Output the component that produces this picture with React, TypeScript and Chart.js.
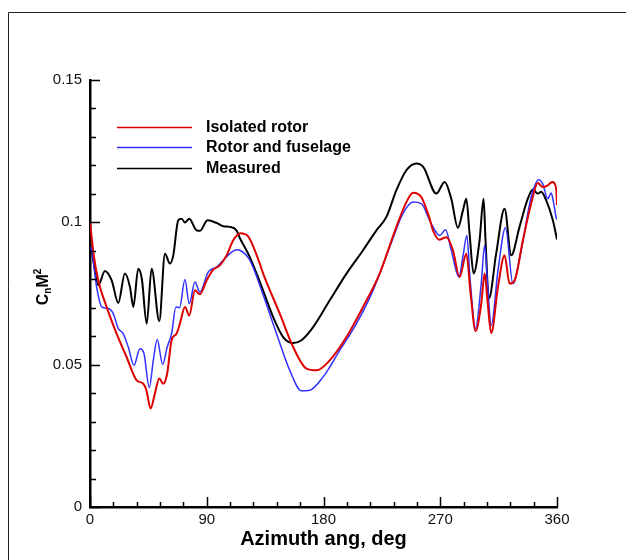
import React, { useEffect, useRef } from "react";
import { Chart, registerables } from "chart.js";

Chart.register(...registerables);

// Isolated rotor
const isoAz = [0, 3, 6.4, 12.8, 20.5, 28.2, 36, 41.1, 43.5, 46.7, 50, 53.4, 56.5, 59.5, 62.9, 66.7, 69.3, 73.2, 76.5, 80.9, 84.7, 89.9, 95, 100.1, 105.3, 110.4, 116, 121.9, 130.9, 133.5, 146.3, 156.6, 166.9, 174.6, 184.8, 197.7, 210.5, 223.3, 236.2, 243.9, 249, 255.4, 261.8, 264.4, 269.5, 274.7, 279.8, 284.9, 290.1, 293.4, 297.2, 301.6, 304.2, 306.5, 309.3, 314.5, 319.6, 323.4, 327.3, 333.7, 340.1, 345.2, 349.1, 352.9, 356.3, 359.4, 360];
const isoCn = [0.1, 0.088, 0.0796, 0.0703, 0.0609, 0.0527, 0.0445, 0.0433, 0.041, 0.0346, 0.0398, 0.0451, 0.0433, 0.0469, 0.0586, 0.0609, 0.0644, 0.0703, 0.0673, 0.0761, 0.0747, 0.0796, 0.0834, 0.0849, 0.0884, 0.0937, 0.0962, 0.0951, 0.0855, 0.082, 0.0679, 0.0562, 0.0486, 0.048, 0.0515, 0.0597, 0.0703, 0.082, 0.0984, 0.1071, 0.1104, 0.1089, 0.1013, 0.0972, 0.0939, 0.0948, 0.0902, 0.0808, 0.089, 0.075, 0.0618, 0.0714, 0.082, 0.072, 0.0611, 0.0773, 0.0884, 0.0785, 0.0796, 0.0937, 0.1066, 0.1138, 0.1124, 0.113, 0.1142, 0.1118, 0.106];

// Rotor and fuselage
const fusAz = [0, 1.3, 5.1, 9, 14.1, 17.9, 21.8, 25.6, 29.5, 33.9, 38.5, 41.6, 45.7, 48.8, 51.8, 56, 59.5, 62.9, 66.2, 69, 73.2, 76.5, 80.9, 84.7, 91.1, 97.5, 102.7, 107.8, 112.9, 115.5, 123.2, 133.5, 143.8, 154, 163, 169.4, 179.7, 192.5, 205.4, 218.2, 231, 241.3, 249, 255.4, 261.8, 264.4, 269.5, 274.1, 278.5, 284.4, 287.5, 290.5, 293, 297.2, 301.6, 304.2, 306.5, 309.3, 314.5, 320.3, 326, 332.4, 340.1, 346, 349, 352.9, 355.5, 357.3, 359.4, 360];
const fusCn = [0.0913, 0.0902, 0.0773, 0.0703, 0.0697, 0.0679, 0.0627, 0.0609, 0.0562, 0.0498, 0.0556, 0.0539, 0.0419, 0.0515, 0.0588, 0.0501, 0.0562, 0.0609, 0.0703, 0.07, 0.0799, 0.0714, 0.079, 0.0755, 0.0825, 0.0843, 0.0867, 0.089, 0.0904, 0.0902, 0.0867, 0.0745, 0.0609, 0.048, 0.0408, 0.041, 0.0457, 0.055, 0.0644, 0.0761, 0.0913, 0.1031, 0.1071, 0.1066, 0.1007, 0.0984, 0.0954, 0.0974, 0.0902, 0.0808, 0.088, 0.0954, 0.08, 0.0627, 0.0785, 0.0919, 0.078, 0.0638, 0.0831, 0.0981, 0.0785, 0.0902, 0.1089, 0.115, 0.1135, 0.1083, 0.1103, 0.1071, 0.1016, 0.101];

// Measured
const measAz = [0, 2, 6.4, 11.5, 16.7, 21.8, 26.9, 30.8, 33.4, 37.2, 40, 43.7, 47.5, 53.4, 57.8, 61.6, 64.2, 68, 70.6, 73.2, 76.5, 82.1, 84.7, 90.6, 97.5, 102.7, 107.8, 112.9, 115.5, 123.2, 131, 141.2, 148.9, 156.6, 163, 172, 184.8, 197.7, 210.5, 220.8, 228.5, 236.2, 243.9, 251.6, 257, 267, 273.4, 278.5, 283.6, 287.5, 290.1, 292.6, 295.7, 300.3, 303.4, 304.9, 307.5, 313.1, 319.6, 324.7, 331.1, 337.5, 341.4, 345.2, 347.8, 351.7, 356.8, 360];
const measCn = [0.0926, 0.088, 0.0779, 0.0829, 0.0796, 0.0717, 0.082, 0.0773, 0.0703, 0.0837, 0.08, 0.0644, 0.0837, 0.0653, 0.089, 0.0855, 0.0884, 0.1007, 0.1013, 0.0999, 0.1013, 0.0972, 0.097, 0.1007, 0.0998, 0.0986, 0.0984, 0.0972, 0.0945, 0.0878, 0.079, 0.0667, 0.0597, 0.0576, 0.0586, 0.0632, 0.0726, 0.082, 0.0902, 0.0972, 0.1019, 0.1113, 0.1183, 0.1207, 0.1194, 0.1101, 0.1142, 0.1083, 0.0981, 0.1042, 0.1083, 0.096, 0.082, 0.0937, 0.1083, 0.0937, 0.0732, 0.089, 0.1048, 0.0884, 0.0984, 0.1083, 0.1115, 0.1101, 0.1107, 0.1077, 0.1007, 0.094];

const seriesLabels = ["Isolated rotor", "Rotor and fuselage", "Measured"];
const xTickValues = [0, 90, 180, 270, 360];
const yTickValues = [0, 0.05, 0.1, 0.15];

const FONT = "'Liberation Sans', Arial, Helvetica, sans-serif";

const zip = (xs: number[], ys: number[]) => xs.map((x, i) => ({ x, y: ys[i] }));

const decorPlugin = {
  id: "decor",
  afterDraw(chart: any) {
    const ctx = chart.ctx;
    const xs = chart.scales.x;
    const ys = chart.scales.y;
    const area = chart.chartArea;
    ctx.save();
    // frame
    ctx.strokeStyle = "#222";
    ctx.lineWidth = 1;
    ctx.beginPath();
    ctx.moveTo(8.5, 560);
    ctx.lineTo(8.5, 12.5);
    ctx.lineTo(626, 12.5);
    ctx.stroke();
    // inward ticks
    ctx.strokeStyle = "#000";
    ctx.lineWidth = 1.5;
    ctx.beginPath();
    for (let d = 0; d <= 360; d += 18) {
      const px = Math.round(xs.getPixelForValue(d)) + 0.5;
      const len = d % 90 === 0 ? 10 : 5;
      ctx.moveTo(px, area.bottom);
      ctx.lineTo(px, area.bottom - len);
    }
    for (let k = 0; k <= 15; k++) {
      const py = Math.round(ys.getPixelForValue(k / 100)) + 0.5;
      const len = k % 5 === 0 ? 10 : 6;
      ctx.moveTo(area.left, py);
      ctx.lineTo(area.left + len, py);
    }
    ctx.stroke();
    // legend
    const ly = [127, 147, 168];
    chart.data.datasets.forEach((ds: any, i: number) => {
      ctx.strokeStyle = ds.borderColor;
      ctx.lineWidth = 1.3;
      ctx.beginPath();
      ctx.moveTo(117, ly[i] + 0.5);
      ctx.lineTo(192, ly[i] + 0.5);
      ctx.stroke();
      ctx.fillStyle = "#000";
      ctx.font = `bold 16px ${FONT}`;
      ctx.textBaseline = "middle";
      ctx.textAlign = "left";
      ctx.fillText(ds.label, 206, ly[i] + 1);
    });
    // y axis title C_n M^2
    ctx.translate(42, 287);
    ctx.rotate(-Math.PI / 2);
    ctx.textBaseline = "alphabetic";
    ctx.fillStyle = "#000";
    const big = `bold 16px ${FONT}`;
    const small = `bold 10px ${FONT}`;
    ctx.font = big;
    const wC = ctx.measureText("C").width;
    const wM = ctx.measureText("M").width;
    ctx.font = small;
    const wn = ctx.measureText("n").width;
    const w2 = ctx.measureText("2").width;
    const total = wC + wn + wM + w2;
    let x = -total / 2;
    const base = 6;
    ctx.font = big;
    ctx.fillText("C", x, base);
    x += wC;
    ctx.font = small;
    ctx.fillText("n", x, base + 3);
    x += wn;
    ctx.font = big;
    ctx.fillText("M", x, base);
    x += wM;
    ctx.font = small;
    ctx.fillText("2", x, base - 7);
    ctx.restore();
  },
};

export default function App() {
  const ref = useRef<HTMLCanvasElement>(null);
  useEffect(() => {
    if (!ref.current) return;
    const chart = new Chart(ref.current, {
      type: "line",
      data: {
        datasets: [
          { label: seriesLabels[0], data: zip(isoAz, isoCn), borderColor: "rgb(220,0,0)", borderWidth: 2, pointRadius: 0, cubicInterpolationMode: "monotone", fill: false },
          { label: seriesLabels[1], data: zip(fusAz, fusCn), borderColor: "rgb(50,50,255)", borderWidth: 1.5, pointRadius: 0, cubicInterpolationMode: "monotone", fill: false },
          { label: seriesLabels[2], data: zip(measAz, measCn), borderColor: "#000", borderWidth: 2, pointRadius: 0, cubicInterpolationMode: "monotone", fill: false },
        ],
      },
      options: {
        animation: false,
        responsive: false,
        events: [],
        layout: { padding: { top: 80, right: 69, left: 0, bottom: 0 } },
        plugins: { legend: { display: false }, tooltip: { enabled: false }, title: { display: false } },
        scales: {
          x: {
            type: "linear",
            min: 0,
            max: 360,
            afterBuildTicks: (s: any) => { s.ticks = xTickValues.map((v) => ({ value: v })); },
            ticks: { color: "#111", font: { family: FONT, size: 15 }, padding: 4, maxRotation: 0, autoSkip: false, callback: (v: any) => String(v) },
            grid: { display: false, drawTicks: false },
            border: { display: true, color: "#000", width: 2.5 },
            title: { display: true, text: "Azimuth ang, deg", color: "#000", font: { family: FONT, size: 20, weight: "bold" }, padding: { top: 0, bottom: 9 } },
            afterFit: (s: any) => { s.height = 53; },
          },
          y: {
            type: "linear",
            min: 0,
            max: 0.15,
            afterBuildTicks: (s: any) => { s.ticks = yTickValues.map((v) => ({ value: v })); },
            ticks: { color: "#111", font: { family: FONT, size: 15 }, padding: 8, callback: (v: any) => String(Number(Number(v).toFixed(3))) },
            grid: { display: false, drawTicks: false },
            border: { display: true, color: "#000", width: 2.5 },
            afterFit: (s: any) => { s.width = 90; },
          },
        },
      },
      plugins: [decorPlugin],
    } as any);
    return () => chart.destroy();
  }, []);
  return (
    <div style={{ position: "fixed", left: 0, top: 0, width: 626, height: 560, background: "#fff" }}>
      <canvas ref={ref} width={626} height={560} />
    </div>
  );
}
